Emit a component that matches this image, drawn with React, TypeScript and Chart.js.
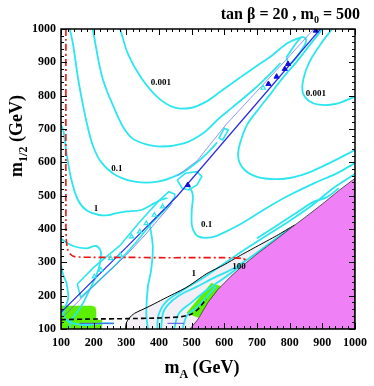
import React, { useEffect, useRef } from 'react';
import { Chart, registerables } from 'chart.js';
Chart.register(...registerables);

type P = [number, number];

// axis ranges / ticks
const axisMin = 100;
const axisMax = 1000;
const majorStep = 100;
const minorStep = 20;

// filled regions
const magentaRegion: P[] = [[495,100],[520,130],[550,180],[580,218],[620,258],[660,293],[700,325],[750,362],[800,400],[850,437],[900,475],[950,515],[1000,552],[1000,100],[495,100]];
const lavenderRegion: P[] = [[297,100],[300,118],[308,132],[325,147],[366,166],[426,196],[486,226],[546,266],[600,293],[644,318],[700,348],[760,380],[815,412],[1000,552],[1000,100],[297,100]];
const blackBoundary: P[] = [[297,100],[300,118],[308,132],[325,147],[366,166],[426,196],[486,226],[546,266],[600,293],[644,318],[700,348],[760,380],[815,412]];
const greenLeft: P[] = [[100,100],[100,170],[195,170],[205,166],[208,156],[208,128],[226,128],[226,100],[100,100]];
const greenStrip: P[] = [[484,148],[560,238],[590,228],[520,134],[484,148]];

// cyan contours
const contourA: P[] = [[127,1000],[137,953],[152,853],[167,773],[182,705],[197,652],[222,602],[267,562],[326,542],[396,542],[466,566],[516,600],[550,630],[578,660]];
const contourB: P[] = [[197,1000],[227,853],[267,753],[296,697],[326,667],[396,648],[476,657],[536,688],[585,733],[625,765],[695,823],[745,870],[772,898]];
const contourC: P[] = [[281,1000],[306,923],[346,853],[396,795],[446,765],[496,763],[546,783],[585,810],[645,852],[700,890],[745,920],[794,958],[834,975]];
const topLoop: P[] = [[790,915],[835,975],[850,970],[842,945],[800,893],[790,915]];
const contourOne: P[] = [[100,712],[107,697],[117,627],[132,547],[152,487],[177,457],[217,442],[247,442],[267,447],[296,452],[346,457],[376,472],[405,487],[426,493]];
const contourU: P[] = [[900,1000],[860,950],[820,900],[780,855],[745,810],[705,760],[670,713],[650,663],[642,620],[655,585],[690,560],[740,550],[800,553],[860,570],[920,597],[1000,637]];
const contourG: P[] = [[930,1000],[895,955],[860,900],[842,850],[840,810],[858,785],[890,773],[940,775],[1000,797]];
const contourL2: P[] = [[488,535],[503,505],[500,450],[502,405],[520,378],[560,375],[600,390],[650,415],[700,445],[750,475],[800,502],[874,537],[944,567],[1000,598]];
const contourL3: P[] = [[395,100],[398,140],[420,180],[470,215],[530,250],[575,280],[620,310],[665,340],[745,390],[800,425],[870,472],[930,520],[1000,565]];
const contourL4: P[] = [[406,100],[416,157],[456,197],[516,227],[575,257],[625,280],[680,315],[740,358],[800,402]];
const contourL5: P[] = [[446,100],[461,147],[496,177],[546,217],[605,257],[650,290]];
const contourL6: P[] = [[472,100],[485,140],[510,160],[540,190],[575,228]];
const contourL7: P[] = [[700,372],[760,410],[820,448],[874,482],[913,495],[950,522]];
const contourV: P[] = [[372,412],[381,347],[376,277],[366,227],[361,147],[366,100]];
const contourLB1: P[] = [[97,372],[137,349],[177,342],[207,349],[222,332],[217,287],[202,247],[187,217],[167,177],[147,147],[132,127],[125,100]];
const contourLB2: P[] = [[100,290],[107,262],[117,237],[122,192],[112,162],[107,147],[117,127],[137,117],[177,112],[227,117],[262,117]];
const bandOutline: P[] = [[150,235],[200,285],[280,350],[340,420],[400,485],[430,512],[448,505],[448,495],[430,470],[380,420],[330,360],[270,295],[200,230],[160,195],[150,235]];
const dotLoop: P[] = [[456,547],[481,567],[516,572],[531,557],[516,532],[491,517],[471,522],[456,547]];
const midBox: P[] = [[583,672],[600,702],[612,697],[595,667],[583,672]];

// blue lines
const blueMain: P[] = [[100,150],[300,345],[456,499],[600,664],[750,835],[894,1000]];
const blueThinLow: P[] = [[110,140],[196,226],[300,322],[360,385],[441,478]];
const blueThinHigh: P[] = [[456,560],[516,604],[605,713],[794,913],[874,1000]];
const blueShortA: P[] = [[157,117],[262,117]];
const blueShortB: P[] = [[426,117],[476,117]];
const blueMarkers: P[] = [[488,532],[735,835],[760,857],[785,880],[795,895],[880,995]];
const cyanMarkers: P[] = [[202,257],[222,277],[252,312],[281,322],[316,377],[341,392],[361,417],[386,442],[411,467],[719,823]];

// red and black dashed
const redLine: P[] = [[115,1000],[115,420],[116,370],[120,340],[128,325],[142,317],[200,315],[300,315],[400,314],[500,314],[600,314],[655,312],[668,306],[672,298]];
const blackDashed: P[] = [[100,128],[200,130],[300,131],[400,133],[470,137],[500,145],[520,160],[545,190]];

// contour labels
const labelTexts = ['0.001', '0.001', '0.1', '1', '0.1', '1', '100'];
const labelX = [406, 880, 271, 207, 546, 506, 645];
const labelY = [838, 806, 582, 462, 412, 266, 288];

const SERIF = "'Liberation Serif', 'Times New Roman', serif";
const CYAN = '#2ce6ef';

const xy = (a: P[]) => a.map(([x, y]) => ({ x, y }));

type Part = { t: string; sub?: boolean };
const titleParts: Part[] = [{ t: 'tan \u03B2 = 20 , m' }, { t: '0', sub: true }, { t: ' = 500' }];
const xTitleParts: Part[] = [{ t: 'm' }, { t: 'A', sub: true }, { t: ' (GeV)' }];
const yTitleParts: Part[] = [{ t: 'm' }, { t: '1/2', sub: true }, { t: ' (GeV)' }];

function drawRich(ctx: CanvasRenderingContext2D, parts: Part[], x: number, y: number, size: number, align: 'left' | 'center' | 'right') {
  const fontFor = (sub?: boolean) => `bold ${sub ? Math.round(size * 0.65) : size}px ${SERIF}`;
  let total = 0;
  for (const p of parts) { ctx.font = fontFor(p.sub); total += ctx.measureText(p.t).width; }
  let cx = align === 'left' ? x : align === 'center' ? x - total / 2 : x - total;
  ctx.textAlign = 'left';
  ctx.textBaseline = 'alphabetic';
  for (const p of parts) {
    ctx.font = fontFor(p.sub);
    ctx.fillText(p.t, cx, p.sub ? y + size * 0.28 : y);
    cx += ctx.measureText(p.t).width;
  }
}

const decorPlugin = {
  id: 'decor',
  afterDraw(chart: any) {
    const ctx: CanvasRenderingContext2D = chart.ctx;
    const xs = chart.scales.x;
    const ys = chart.scales.y;
    const a = chart.chartArea;
    ctx.save();
    ctx.fillStyle = '#000';
    ctx.font = `bold 9px ${SERIF}`;
    ctx.textAlign = 'center';
    ctx.textBaseline = 'middle';
    labelTexts.forEach((t, i) => ctx.fillText(t, xs.getPixelForValue(labelX[i]), ys.getPixelForValue(labelY[i])));
    ctx.strokeStyle = '#000';
    ctx.lineWidth = 1.5;
    ctx.strokeRect(a.left, a.top, a.right - a.left, a.bottom - a.top);
    ctx.lineWidth = 1;
    ctx.beginPath();
    for (let v = axisMin; v <= axisMax; v += minorStep) {
      const len = v % majorStep === 0 ? 6 : 3;
      const px = Math.round(xs.getPixelForValue(v)) + 0.5;
      const py = Math.round(ys.getPixelForValue(v)) + 0.5;
      ctx.moveTo(px, a.bottom); ctx.lineTo(px, a.bottom - len);
      ctx.moveTo(px, a.top); ctx.lineTo(px, a.top + len);
      ctx.moveTo(a.left, py); ctx.lineTo(a.left + len, py);
      ctx.moveTo(a.right, py); ctx.lineTo(a.right - len, py);
    }
    ctx.stroke();
    drawRich(ctx, titleParts, 360, 19, 16, 'right');
    drawRich(ctx, xTitleParts, (a.left + a.right) / 2 - 6, 373, 18, 'center');
    ctx.translate(22, 136);
    ctx.rotate(-Math.PI / 2);
    drawRich(ctx, yTitleParts, 0, 0, 18, 'center');
    ctx.restore();
  },
};

export default function App() {
  const ref = useRef<HTMLCanvasElement | null>(null);
  useEffect(() => {
    document.body.style.margin = '0';
    const line = (data: P[], color: string, width: number, extra: any = {}) => ({
      data: xy(data), showLine: true, borderColor: color, borderWidth: width, pointRadius: 0,
      tension: 0.35, fill: false, order: 50, ...extra,
    });
    const region = (data: P[], color: string, order: number, border = 'rgba(0,0,0,0)', bw = 0) => ({
      data: xy(data), showLine: true, borderColor: border, borderWidth: bw, backgroundColor: color,
      pointRadius: 0, tension: 0, fill: 'shape', order,
    });
    const cyanSets = [contourA, contourB, contourC, topLoop, contourOne, contourU, contourG, contourL2, contourL3,
      contourL4, contourL5, contourL6, contourL7, contourV, contourLB1, contourLB2].map((c) => line(c, CYAN, 1.8));
    const cyanClosed = [bandOutline, dotLoop, midBox].map((c) => line(c, CYAN, 1.6, { tension: 0 }));
    const tickFont = { family: SERIF, size: 12, weight: 'bold' };
    const chart = new Chart(ref.current as HTMLCanvasElement, {
      type: 'scatter',
      data: {
        datasets: [
          region(lavenderRegion, '#f4eef6', 100),
          region(greenLeft, '#5cf000', 90),
          region(greenStrip, '#5cf000', 90),
          ...cyanSets,
          ...cyanClosed,
          line(blueMain, '#2a2ae8', 1.2, { order: 40, tension: 0 }),
          line(blueThinLow, '#6a6af0', 0.8, { order: 40, tension: 0 }),
          line(blueThinHigh, '#7a7af5', 0.8, { order: 40, tension: 0 }),
          line(blueShortA, '#5050f0', 1, { order: 40, tension: 0 }),
          line(blueShortB, '#5050f0', 1, { order: 40, tension: 0 }),
          line(blackBoundary, '#000', 1, { order: 35, tension: 0.2 }),
          line(redLine, '#ee1111', 1.6, { order: 30, tension: 0.2, borderDash: [7, 3, 2, 3] }),
          line(blackDashed, '#000', 1.6, { order: 30, tension: 0.2, borderDash: [5, 3] }),
          region(magentaRegion, '#ef80f5', 20, '#333', 0.8),
          { data: xy(blueMarkers), showLine: false, pointStyle: 'triangle', pointRadius: 3, backgroundColor: '#1010e0', borderColor: '#1010e0', order: 10 },
          { data: xy(cyanMarkers), showLine: false, pointStyle: 'triangle', pointRadius: 2.5, backgroundColor: 'rgba(0,0,0,0)', borderColor: CYAN, borderWidth: 1.2, order: 10 },
        ] as any,
      },
      options: {
        responsive: false,
        animation: false,
        devicePixelRatio: 1,
        events: [],
        layout: { padding: { top: 29, right: 12, left: 0, bottom: 0 } },
        plugins: { legend: { display: false }, tooltip: { enabled: false } },
        scales: {
          x: {
            type: 'linear', min: axisMin, max: axisMax,
            grid: { display: false, drawTicks: false }, border: { display: false },
            ticks: { stepSize: majorStep, autoSkip: false, maxRotation: 0, padding: 7, color: '#000', font: tickFont, callback: (v: any) => String(v) },
            afterFit: (s: any) => { s.height = 57; },
          },
          y: {
            type: 'linear', min: axisMin, max: axisMax,
            grid: { display: false, drawTicks: false }, border: { display: false },
            ticks: { stepSize: majorStep, autoSkip: false, padding: 5, color: '#000', font: tickFont, callback: (v: any) => String(v) },
            afterFit: (s: any) => { s.width = 61; },
          },
        },
      } as any,
      plugins: [decorPlugin],
    });
    return () => chart.destroy();
  }, []);
  return (
    <div style={{ position: 'fixed', left: 0, top: 0, width: 374, height: 386, background: '#fff' }}>
      <canvas ref={ref} width={374} height={386} style={{ width: 374, height: 386 }} />
    </div>
  );
}
